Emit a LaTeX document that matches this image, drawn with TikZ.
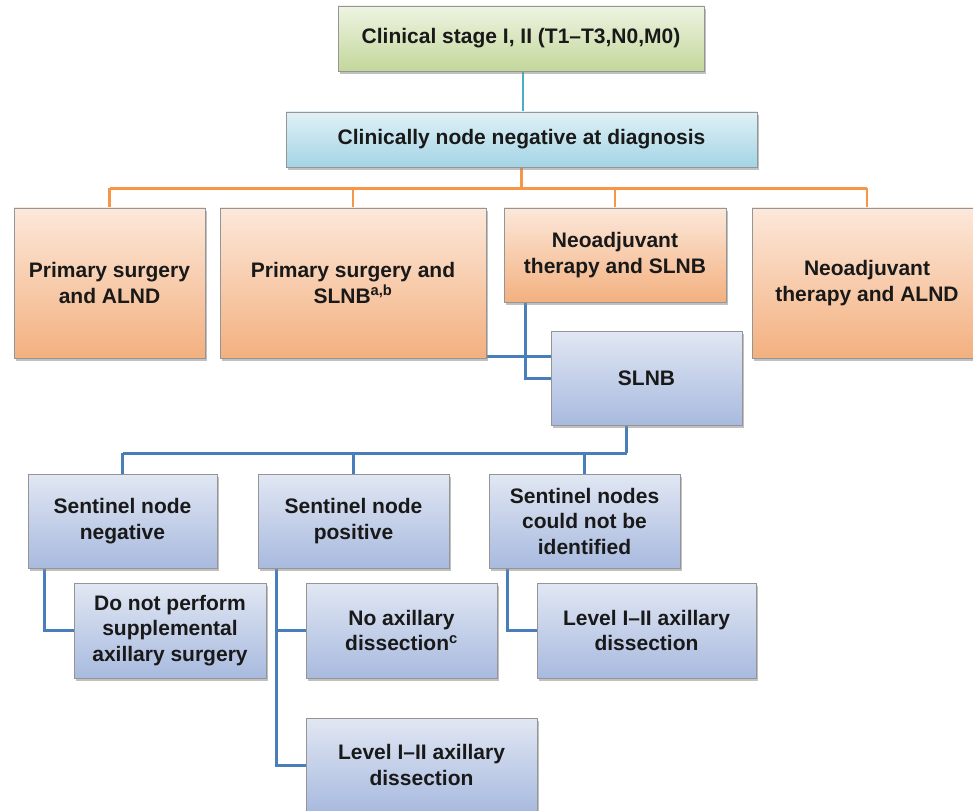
\documentclass[tikz,border=0pt]{standalone}
\usepackage{fontspec}
\setmainfont{Liberation Sans}
\usetikzlibrary{shadows,backgrounds}
\definecolor{greentop}{HTML}{EEF4E2}
\definecolor{greenbot}{HTML}{C3D79B}
\definecolor{cyantop}{HTML}{E0F1F6}
\definecolor{cyanbot}{HTML}{A3D4E5}
\definecolor{orangetop}{HTML}{FCE8DA}
\definecolor{orangebot}{HTML}{F3B07F}
\definecolor{bluetop}{HTML}{E1E7F3}
\definecolor{bluebot}{HTML}{A8BADF}
\definecolor{boxline}{HTML}{959595}
\definecolor{cyanlink}{HTML}{4BACC6}
\definecolor{orangelink}{HTML}{F79646}
\definecolor{bluelink}{HTML}{4A7EBB}
\tikzset{%
  box/.style={draw=boxline,line width=0.8pt,align=center,inner sep=2pt,
    text=black!90,font=\bfseries\fontsize{21}{25.5}\selectfont,
    drop shadow={shadow xshift=2pt,shadow yshift=-3pt,fill=black!45,opacity=0.55}},
  green box/.style={box,top color=greentop,bottom color=greenbot},
  cyan box/.style={box,top color=cyantop,bottom color=cyanbot},
  orange box/.style={box,top color=orangetop,bottom color=orangebot},
  blue box/.style={box,top color=bluetop,bottom color=bluebot},
  cyan link/.style={draw=cyanlink,line width=2pt},
  orange link/.style={draw=orangelink,line width=2.6pt},
  blue link/.style={draw=bluelink,line width=3pt},
}
\begin{document}
\begin{tikzpicture}[x=1pt,y=-1pt]
  \useasboundingbox (0,0) rectangle (973,810);
  \clip (0,0) rectangle (973,810);
  % boxes, placed at coordinates
  \node[green box,minimum width=366pt,minimum height=65pt] (stage) at (521,38.5)
    {Clinical stage I, II (T1--T3,N0,M0)};
  \node[cyan box,minimum width=471pt,minimum height=55pt] (cnn) at (521.5,139.5)
    {Clinically node negative at diagnosis};
  \node[orange box,minimum width=191pt,minimum height=150pt] (psalnd) at (109.5,283)
    {Primary surgery\\and ALND};
  \node[orange box,minimum width=266pt,minimum height=150pt] (psslnb) at (353,283)
    {Primary surgery and\\SLNB\textsuperscript{a,b}};
  \node[orange box,minimum width=222pt,minimum height=94pt] (neoslnb) at (615,255)
    {Neoadjuvant\\therapy and SLNB};
  \node[orange box,minimum width=230pt,minimum height=150pt] (neoalnd) at (867,283)
    {Neoadjuvant\\therapy and ALND};
  \node[blue box,minimum width=191pt,minimum height=94pt] (slnb) at (646.5,378)
    {SLNB};
  \node[blue box,minimum width=189pt,minimum height=94pt] (snneg) at (122.5,521)
    {Sentinel node\\negative};
  \node[blue box,minimum width=191pt,minimum height=94pt] (snpos) at (353.5,521)
    {Sentinel node\\positive};
  \node[blue box,minimum width=191pt,minimum height=94pt] (snnid) at (584.5,521)
    {Sentinel nodes\\could not be\\identified};
  \node[blue box,minimum width=192pt,minimum height=95pt] (nosupp) at (170,630.5)
    {Do not perform\\supplemental\\axillary surgery};
  \node[blue box,minimum width=191pt,minimum height=95pt] (noax) at (401.5,630.5)
    {No axillary\\dissection\textsuperscript{c}};
  \node[blue box,minimum width=219pt,minimum height=95pt] (levela) at (646.5,630.5)
    {Level I--II axillary\\dissection};
  \node[blue box,minimum width=231pt,minimum height=94pt] (levelb) at (421.5,765)
    {Level I--II axillary\\dissection};
  % connectors go below the boxes
  \begin{scope}[on background layer]
    \path[cyan link] ([xshift=2pt]stage.south) -- ([xshift=1.5pt]cnn.north);
    \path[orange link] (cnn.south) -- ++(0,21) coordinate (obar)
      (psalnd.north |- obar) -- (neoalnd.north |- obar)
      foreach \n in {psalnd,psslnb,neoslnb,neoalnd} {(\n.north |- obar) -- (\n.north)};
    \path[blue link] ([yshift=2pt]psslnb.south) -- ([yshift=2pt]psslnb.south -| slnb.west);
    \path[blue link] ([xshift=22pt]neoslnb.south west) |- (slnb.west);
    \path[blue link] ([xshift=-20pt]slnb.south) -- ++(0,28) coordinate (bbar)
      (snneg.north |- bbar) -- (bbar)
      foreach \n in {snneg,snpos,snnid} {(\n.north |- bbar) -- (\n.north)};
    \path[blue link] ([xshift=17pt]snneg.south west) |- (nosupp.west);
    \path[blue link] ([xshift=19pt]snpos.south west) |- (levelb.west)
      (noax.west -| levelb.west) ++(-29pt,0) -- (noax.west);
    \path[blue link] ([xshift=19pt]snnid.south west) |- (levela.west);
  \end{scope}
\end{tikzpicture}
\end{document}
